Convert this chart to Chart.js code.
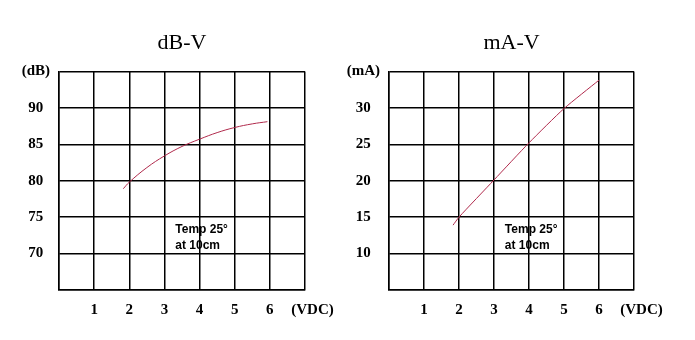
<!DOCTYPE html>
<html>
<head>
<meta charset="utf-8">
<script src="https://cdn.jsdelivr.net/npm/chart.js@4"></script>
<style>
  body { margin: 0; background: #fff; }
  .box { position: absolute; top: 0; height: 340px; }
</style>
</head>
<body>
<div class="box" style="left:0;width:347px"><canvas id="dbChart" width="347" height="340"></canvas></div>
<div class="box" style="left:347px;width:348px"><canvas id="maChart" width="348" height="340"></canvas></div>
<script>
// x axis ticks (volts)
const voltTicks = [0, 1, 2, 3, 4, 5, 6, 7];
const voltLabels = ['', '1', '2', '3', '4', '5', '6', '    (VDC)'];

// dB-V curve
const dbVolts = [1.83, 2, 2.5, 3, 3.5, 4, 4.5, 5, 5.5, 5.93];
const dbValues = [78.9, 79.8, 81.8, 83.4, 84.7, 85.7, 86.6, 87.3, 87.8, 88.1];
const dbTicks = [65, 70, 75, 80, 85, 90, 95];
const dbLabels = ['', '70', '75', '80', '85', '90', '(dB)'];

// mA-V curve
const maVolts = [1.83, 2, 3, 4, 5, 6];
const maValues = [13.9, 15, 20.1, 25.2, 29.9, 33.8];
const maTicks = [5, 10, 15, 20, 25, 30, 35];
const maLabels = ['', '10', '15', '20', '25', '30', '(mA)'];

const noteLines = ['Temp 25°', 'at 10cm'];
const noteX = 3.31;

const serif = 'Liberation Serif, Times New Roman, serif';

const notePlugin = {
    id: 'note',
    afterDatasetsDraw(chart, args, opts) {
        const ctx = chart.ctx;
        const x = chart.scales.x.getPixelForValue(noteX);
        ctx.save();
        ctx.fillStyle = '#000';
        ctx.font = 'bold 12px Liberation Sans, Arial, sans-serif';
        ctx.textAlign = 'left';
        ctx.textBaseline = 'alphabetic';
        noteLines.forEach((line, i) => {
            ctx.fillText(line, x, chart.scales.y.getPixelForValue(opts.y[i]));
        });
        ctx.restore();
    }
};

function makeChart(id, title, xs, ys, yTicks, yLabels, yWidth, padRight, tension, noteY) {
    const ctx = document.getElementById(id).getContext('2d');
    return new Chart(ctx, {
        type: 'scatter',
        data: {
            datasets: [{
                data: xs.map((v, i) => ({x: v, y: ys[i]})),
                showLine: true,
                borderColor: '#b02a4c',
                borderWidth: 1,
                pointRadius: 0,
                tension: tension,
                fill: false
            }]
        },
        options: {
            responsive: false,
            animation: false,
            layout: { padding: { left: 0, right: padRight, top: 30, bottom: 10 } },
            plugins: {
                legend: { display: false },
                tooltip: { enabled: false },
                title: {
                    display: true,
                    text: title,
                    fullSize: false,
                    color: '#000',
                    font: { family: serif, size: 22, weight: 'normal' },
                    padding: { top: 0, bottom: 15 }
                },
                note: { y: noteY }
            },
            scales: {
                x: {
                    type: 'linear',
                    min: 0,
                    max: 7,
                    afterBuildTicks: s => { s.ticks = voltTicks.map(v => ({value: v})); },
                    grid: { color: '#000', lineWidth: 1.5, drawTicks: false },
                    border: { color: '#000', width: 1.5 },
                    ticks: {
                        color: '#000',
                        padding: 11,
                        maxRotation: 0,
                        autoSkip: false,
                        font: { family: serif, size: 15, weight: 'bold' },
                        callback: (v, i) => voltLabels[i]
                    }
                },
                y: {
                    min: yTicks[0],
                    max: yTicks[yTicks.length - 1],
                    afterBuildTicks: s => { s.ticks = yTicks.map(v => ({value: v})); },
                    afterFit: s => { s.width = yWidth; },
                    grid: { color: '#000', lineWidth: 1.5, drawTicks: false },
                    border: { color: '#000', width: 1.5 },
                    ticks: {
                        color: '#000',
                        padding: 9,
                        crossAlign: 'center',
                        autoSkip: false,
                        font: { family: serif, size: 15, weight: 'bold' },
                        callback: (v, i) => yLabels[i]
                    }
                }
            }
        },
        plugins: [notePlugin]
    });
}

makeChart('dbChart', 'dB-V', dbVolts, dbValues, dbTicks, dbLabels, 59, 42, 0.4, [72.8, 70.6]);
makeChart('maChart', 'mA-V', maVolts, maValues, maTicks, maLabels, 42, 61, 0.2, [12.8, 10.6]);
</script>
</body>
</html>
